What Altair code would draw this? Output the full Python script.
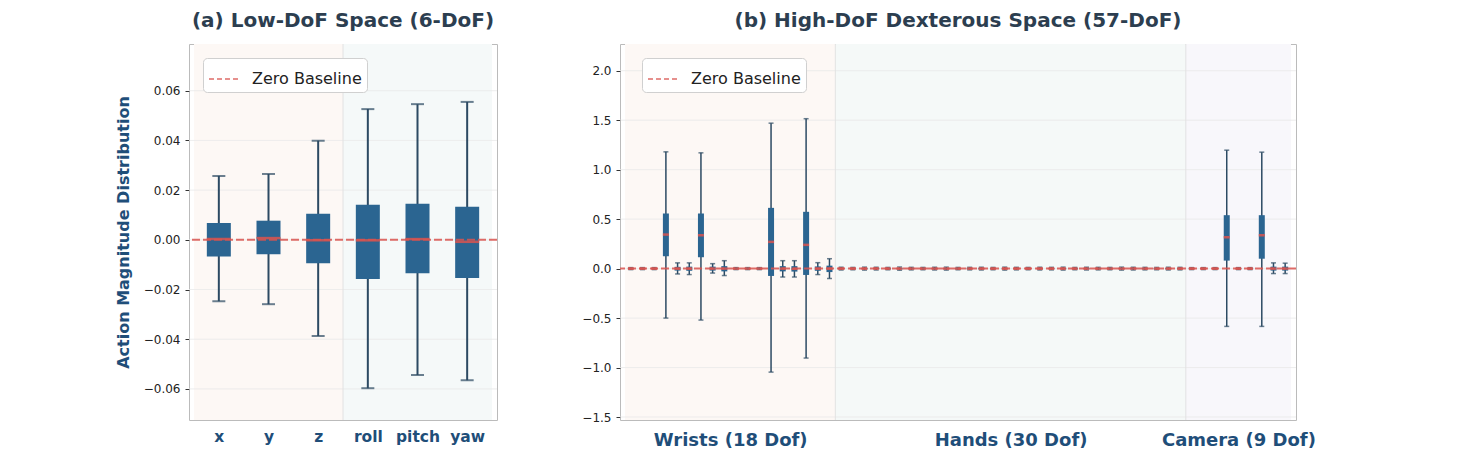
import json
import altair as alt
import pandas as pd

# ---------------- panel (a): 6-DoF end-effector actions ----------------
LOW_NAMES = ["x", "y", "z", "roll", "pitch", "yaw"]
LOW_LO = [-0.0247, -0.0259, -0.0387, -0.0597, -0.0544, -0.0565]
LOW_Q1 = [-0.0067, -0.0058, -0.0094, -0.0158, -0.0134, -0.0154]
LOW_MED = [0.0003, 0.0007, -0.0002, -0.0002, 0.0003, -0.0008]
LOW_Q3 = [0.0068, 0.0077, 0.0105, 0.0141, 0.0145, 0.0133]
LOW_HI = [0.0257, 0.0265, 0.0399, 0.0526, 0.0546, 0.0555]
LOW_GROUP_SIZES = [3, 3]          # translation / rotation
LOW_Y_TICKS = [-0.06, -0.04, -0.02, 0.0, 0.02, 0.04, 0.06]
LOW_Y_DOMAIN = [-0.0725, 0.0788]

# ---------------- panel (b): 57-DoF dexterous actions ----------------
GROUP_NAMES = ["Wrists", "Hands", "Camera"]
GROUP_SIZES = [18, 30, 9]

WRIST_LO = [-0.010, -0.010, -0.010, -0.500, -0.054, -0.060, -0.520, -0.045, -0.070,
            -0.010, -0.010, -0.010, -1.046, -0.085, -0.085, -0.904, -0.060, -0.100]
WRIST_Q1 = [-0.004, -0.004, -0.004, 0.125, -0.020, -0.022, 0.115, -0.020, -0.028,
            -0.004, -0.004, -0.004, -0.074, -0.028, -0.030, -0.064, -0.022, -0.035]
WRIST_MED = [0.000, 0.000, 0.000, 0.344, 0.000, 0.000, 0.337, 0.000, 0.000,
             0.000, 0.000, 0.000, 0.270, 0.000, -0.002, 0.240, 0.000, 0.000]
WRIST_Q3 = [0.004, 0.004, 0.004, 0.557, 0.018, 0.020, 0.557, 0.020, 0.025,
            0.004, 0.004, 0.004, 0.614, 0.025, 0.025, 0.574, 0.022, 0.030]
WRIST_HI = [0.010, 0.010, 0.010, 1.180, 0.058, 0.058, 1.170, 0.050, 0.080,
            0.010, 0.010, 0.010, 1.470, 0.080, 0.080, 1.515, 0.060, 0.100]

HAND_LO = [-0.014, -0.012, -0.015, -0.013, -0.012, -0.016, -0.013, -0.012, -0.014, -0.015,
           -0.012, -0.013, -0.014, -0.012, -0.015, -0.013, -0.012, -0.014, -0.013, -0.015,
           -0.012, -0.014, -0.013, -0.012, -0.015, -0.014, -0.013, -0.012, -0.014, -0.013]
HAND_Q1 = [-0.006, -0.005, -0.006, -0.005, -0.005, -0.007, -0.005, -0.005, -0.006, -0.006,
           -0.005, -0.005, -0.006, -0.005, -0.006, -0.005, -0.005, -0.006, -0.005, -0.006,
           -0.005, -0.006, -0.005, -0.005, -0.006, -0.006, -0.005, -0.005, -0.006, -0.005]
HAND_MED = [0.000, 0.000, 0.000, 0.000, 0.000, 0.000, 0.000, 0.000, 0.000, 0.000,
            0.000, 0.000, 0.000, 0.000, 0.000, 0.000, 0.000, 0.000, 0.000, 0.000,
            0.000, 0.000, 0.000, 0.000, 0.000, 0.000, 0.000, 0.000, 0.000, 0.000]
HAND_Q3 = [0.006, 0.005, 0.006, 0.005, 0.005, 0.007, 0.005, 0.005, 0.006, 0.006,
           0.005, 0.005, 0.006, 0.005, 0.006, 0.005, 0.005, 0.006, 0.005, 0.006,
           0.005, 0.006, 0.005, 0.005, 0.006, 0.006, 0.005, 0.005, 0.006, 0.005]
HAND_HI = [0.014, 0.012, 0.015, 0.013, 0.012, 0.016, 0.013, 0.012, 0.014, 0.015,
           0.012, 0.013, 0.014, 0.012, 0.015, 0.013, 0.012, 0.014, 0.013, 0.015,
           0.012, 0.014, 0.013, 0.012, 0.015, 0.014, 0.013, 0.012, 0.014, 0.013]

CAM_LO = [-0.010, -0.010, -0.010, -0.584, -0.010, -0.010, -0.584, -0.050, -0.050]
CAM_Q1 = [-0.004, -0.004, -0.004, 0.081, -0.004, -0.004, 0.100, -0.020, -0.020]
CAM_MED = [0.000, 0.000, 0.000, 0.317, 0.000, 0.000, 0.337, 0.000, 0.000]
CAM_Q3 = [0.004, 0.004, 0.004, 0.540, 0.004, 0.004, 0.540, 0.020, 0.020]
CAM_HI = [0.010, 0.010, 0.010, 1.197, 0.010, 0.010, 1.177, 0.058, 0.055]

HIGH_Y_TICKS = [-1.5, -1.0, -0.5, 0.0, 0.5, 1.0, 1.5, 2.0]
HIGH_Y_DOMAIN = [-1.53, 2.27]

LEGEND_LABEL = "Zero Baseline"

# ---------------- styling ----------------
FONT = "DejaVu Sans"
BOX = "#2b6591"
WHISK = "#2c4a63"
MED = "#d9534f"
ZERO = "#d9534f"
TITLE_C = "#2c3e50"
LABEL_C = "#1f4e79"
GRID_C = "#e9e9e9"
EDGE_C = "#e2e2e2"
LOW_SHADES = ["#fdf8f5", "#f5f9f9"]
HIGH_SHADES = ["#fdf8f5", "#f5f9f8", "#f8f7fb"]


def regions(sizes, shades):
    starts, ends = [], []
    acc = 0
    for n in sizes:
        starts.append(acc + 0.5)
        acc += n
        ends.append(acc + 0.5)
    return pd.DataFrame({"x0": starts, "x1": ends, "shade": shades})


def boxplot_panel(df, sizes, shades, y_domain, y_ticks, y_fmt, x_axis,
                  y_title, width, height, title, box_w, cap_w, line_w,
                  med_w, legend_x):
    n = len(df)
    xs = alt.Scale(domain=[0.5, n + 0.5], nice=False, zero=False)
    ys = alt.Scale(domain=y_domain, nice=False, zero=False)
    y_axis = alt.Axis(values=y_ticks, format=y_fmt, grid=False, domain=False,
                      tickSize=4, tickColor="#333333", tickWidth=1,
                      labelFontSize=12, labelColor="#222222", labelPadding=5,
                      title=y_title, titleFontSize=16, titleFontWeight="bold",
                      titleColor=LABEL_C, titlePadding=12)

    def X(field):
        return alt.X(field, scale=xs, axis=x_axis, title=None)

    def Y(field):
        return alt.Y(field, scale=ys, axis=y_axis)

    reg = regions(sizes, shades)
    shade = alt.Chart(reg).mark_rect().encode(
        x=X("x0:Q"), x2="x1:Q",
        y=alt.Y(datum=y_domain[0], scale=ys, axis=y_axis),
        y2=alt.datum(y_domain[1]),
        fill=alt.Fill("shade:N", scale=None),
    )
    edges = alt.Chart(reg.iloc[:-1]).mark_rule(color=EDGE_C, strokeWidth=1).encode(
        x=X("x1:Q"))
    grid = alt.Chart(pd.DataFrame({"t": y_ticks})).mark_rule(
        color=GRID_C, strokeWidth=0.8).encode(y=Y("t:Q"))

    base = alt.Chart(df)
    whisk = base.mark_rule(color=WHISK, strokeWidth=line_w).encode(
        x=X("pos:Q"), y=Y("lo:Q"), y2="hi:Q")
    cap_lo = base.mark_tick(orient="horizontal", size=cap_w, thickness=line_w,
                            color=WHISK).encode(x=X("pos:Q"), y=Y("lo:Q"))
    cap_hi = base.mark_tick(orient="horizontal", size=cap_w, thickness=line_w,
                            color=WHISK).encode(x=X("pos:Q"), y=Y("hi:Q"))
    box = base.mark_bar(size=box_w, color=BOX).encode(
        x=X("pos:Q"), y=Y("q1:Q"), y2="q3:Q")
    zero = alt.Chart(pd.DataFrame({"v": [0.0], "lbl": [LEGEND_LABEL]})).mark_rule(
        strokeDash=[8, 3], strokeWidth=2, opacity=0.85).encode(
        y=Y("v:Q"),
        color=alt.Color("lbl:N", scale=alt.Scale(domain=[LEGEND_LABEL], range=[ZERO]),
                        legend=alt.Legend(title=None, orient="none",
                                          legendX=legend_x, legendY=14,
                                          symbolType="stroke", symbolDash=[5, 3],
                                          symbolStrokeWidth=1.5, symbolSize=900,
                                          labelFontSize=16, labelColor="#222222",
                                          labelFont=FONT, labelOffset=12,
                                          fillColor="#ffffff", strokeColor="#d0d0d0",
                                          cornerRadius=4, padding=5)))
    med = base.mark_tick(orient="horizontal", size=med_w, thickness=2.5,
                         color=MED, opacity=0.85).encode(x=X("pos:Q"), y=Y("med:Q"))

    return alt.layer(shade, grid, edges, whisk, cap_lo, cap_hi, box, zero, med).properties(
        width=width, height=height,
        title=alt.TitleParams(title, fontSize=20, fontWeight="bold", color=TITLE_C,
                              anchor="middle", offset=13, font=FONT),
    )


# ---- panel (a) ----
low_df = pd.DataFrame({
    "pos": list(range(1, len(LOW_NAMES) + 1)),
    "lo": LOW_LO, "q1": LOW_Q1, "med": LOW_MED, "q3": LOW_Q3, "hi": LOW_HI,
})
low_axis = alt.Axis(values=list(range(1, len(LOW_NAMES) + 1)),
                    labelExpr=f"{json.dumps(LOW_NAMES)}[datum.value - 1]",
                    ticks=False, grid=False, domain=False, labelFontSize=15.5,
                    labelFontWeight="bold", labelColor=LABEL_C, labelPadding=9)
left = boxplot_panel(low_df, LOW_GROUP_SIZES, LOW_SHADES, LOW_Y_DOMAIN, LOW_Y_TICKS,
                     ".2f", low_axis, "Action Magnitude Distribution", 308, 376,
                     "(a) Low-DoF Space (6-DoF)", 24, 13, 2, 24, 14)

# ---- panel (b) ----
hi_lo = WRIST_LO + HAND_LO + CAM_LO
high_df = pd.DataFrame({
    "pos": list(range(1, len(hi_lo) + 1)),
    "lo": hi_lo,
    "q1": WRIST_Q1 + HAND_Q1 + CAM_Q1,
    "med": WRIST_MED + HAND_MED + CAM_MED,
    "q3": WRIST_Q3 + HAND_Q3 + CAM_Q3,
    "hi": WRIST_HI + HAND_HI + CAM_HI,
})
centers, acc = [], 0
for n in GROUP_SIZES:
    centers.append(acc + (n + 1) / 2)
    acc += n
group_labels = [f"{g} ({n} Dof)" for g, n in zip(GROUP_NAMES, GROUP_SIZES)]
expr = json.dumps(group_labels[-1])
for c, lab in reversed(list(zip(centers[:-1], group_labels[:-1]))):
    expr = f"datum.value == {c} ? {json.dumps(lab)} : ({expr})"
high_axis = alt.Axis(values=centers, labelExpr=expr, ticks=False, grid=False,
                     domain=False, labelFontSize=18, labelFontWeight="bold",
                     labelColor=LABEL_C, labelPadding=11)
right = boxplot_panel(high_df, GROUP_SIZES, HIGH_SHADES, HIGH_Y_DOMAIN, HIGH_Y_TICKS,
                      ".1f", high_axis, None, 676, 376,
                      "(b) High-DoF Dexterous Space (57-DoF)", 6, 5, 1.5, 6, 22)

chart = alt.hconcat(left, right, spacing=82).resolve_scale(
    color="independent", fill="independent").properties(
    padding={"left": 114, "top": 10, "right": 5, "bottom": 5},
).configure(font=FONT).configure_view(stroke="#bbbbbb", strokeWidth=1)

chart.save("out.html", embed_options={"renderer": "svg", "actions": False})
